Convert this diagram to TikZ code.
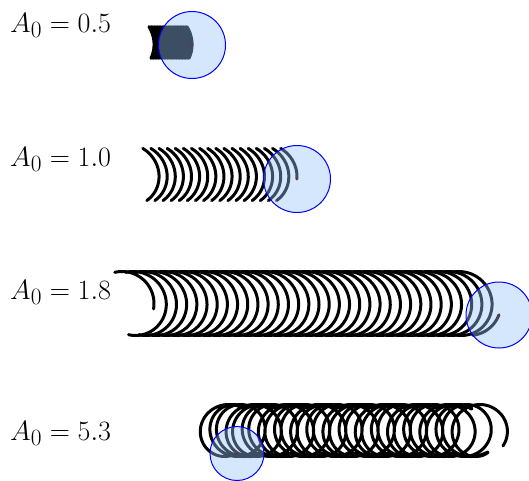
\documentclass[tikz,border=0pt]{standalone}
\usepackage{amsmath}
\usepackage{tikz}
\definecolor{wheelfill}{RGB}{150,195,250}

\begin{document}
\begin{tikzpicture}[x=1pt,y=-1pt,
    traj/.style={line width=3pt, line cap=round, line join=round, black},
    wheel/.style={draw=blue, line width=1pt, fill=wheelfill, fill opacity=0.4},
    hub/.style={fill=red!80!black},
    lab/.style={anchor=base west, inner sep=0pt, font=\Huge, scale=1.125}]
        % Frame
        \clip (0,0) rectangle (529,480);

        % Amplitude labels
        \node[lab] (labA) at (10,32) {$A_0 = 0.5$};
        \node[lab] (labB) at (10,166) {$A_0 = 1.0$};
        \node[lab] (labC) at (10,299) {$A_0 = 1.8$};
        \node[lab] (labD) at (10,440) {$A_0 = 5.3$};

        % A0 = 0.5
        \foreach \i in {0,...,25}
            \draw[traj] plot[domain=0.5:-0.5, samples=15, variable=\p]
                ({120 + 1.52*\i + 33*cos(deg(\p)) + 2*(0.5-\p)}, {42.5 - 33*sin(deg(\p))});

        % A0 = 1.0
        \foreach \i in {0,...,16}
            \draw[traj] plot[domain=1:-1, samples=25, variable=\p]
                ({126 + 8.11*\i + 31*cos(deg(\p)) + 2*(1-\p)}, {174.5 - 31*sin(deg(\p))});
        \draw[traj] plot[domain=1:-0.146, samples=25, variable=\p]
            ({263.9 + 31*cos(deg(\p)) + 2*(1-\p)}, {174.5 - 31*sin(deg(\p))});

        % A0 = 1.8
        \draw[traj] plot[domain=1.8:-0.17, samples=30, variable=\p]
            ({122 + 32*cos(deg(\p))}, {303.5 - 32*sin(deg(\p))});
        \foreach \i in {0,...,32}
            \draw[traj] plot[domain=1.8:-1.8, samples=40, variable=\p]
                ({132.8 + 10.18*\i + 32*cos(deg(\p)) + 0.833*(1.8-\p)}, {303.5 - 32*sin(deg(\p))});
        \draw[traj] plot[domain=-1.45:-0.36, samples=20, variable=\p]
            ({469 + 32*cos(deg(\p))}, {303.5 - 32*sin(deg(\p))});

        % A0 = 5.3
        \draw[traj] plot[domain=-0.12:50.07, samples=2400, variable=\s]
            ({481.4 - 5.14*\s + 26*cos(deg(5.3*sin(deg(\s))))}, {430.5 - 26*sin(deg(5.3*sin(deg(\s))))});

        % Wheels at the end points
        \foreach \cx/\cy/\cr [count=\i] in {192/45/33.5, 297/179/33.5, 499/315/33, 237/453.5/27} {
            \coordinate (hub\i) at (\cx,\cy);
            \draw[wheel] (hub\i) circle[radius=\cr];
            \fill[hub] (hub\i) circle[radius=0.8];
        }
\end{tikzpicture}
\end{document}
